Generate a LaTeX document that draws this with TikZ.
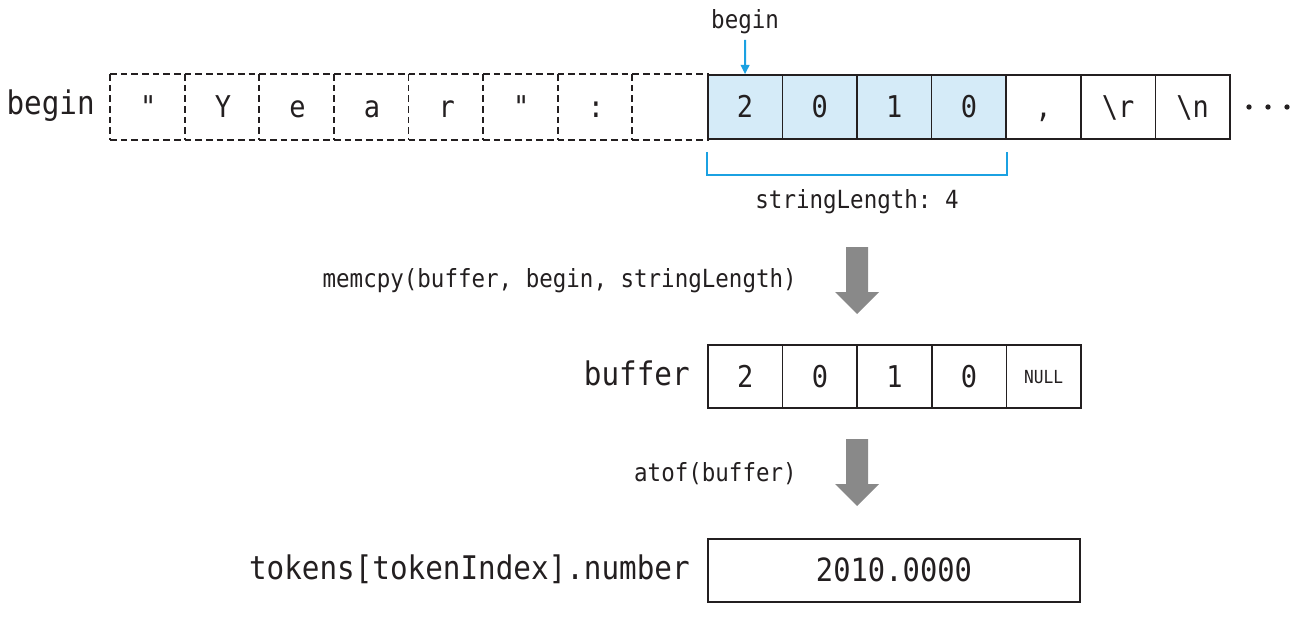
\documentclass[tikz,border=0pt]{standalone}
\usepackage{fontspec}
\setmonofont[FakeStretch=0.9]{DejaVu Sans Mono}
\usetikzlibrary{arrows.meta}
\definecolor{ink}{HTML}{231F20}
\definecolor{hl}{HTML}{D5EBF8}
\definecolor{cyanline}{HTML}{1BA1E2}
\definecolor{arrowgray}{HTML}{898989}
\newcommand\mybigfont{\fontsize{24.4pt}{26pt}\selectfont}
\newcommand\mycellfont{\fontsize{22.5pt}{24pt}\selectfont}
\newcommand\myresfont{\fontsize{24pt}{26pt}\selectfont}
\newcommand\mysmallfont{\fontsize{18.75pt}{20pt}\selectfont}
\newcommand\mytinyfont{\fontsize{13.5pt}{15pt}\selectfont}
\begin{document}
\begin{tikzpicture}[x=0.75pt,y=-0.75pt,font=\ttfamily,text=ink,
  cell/.style={draw=ink,line width=1.3pt,minimum width=55.95pt,minimum height=48pt,
    inner sep=0pt,text height=16pt,text depth=0pt,font=\ttfamily\mycellfont},
  dcell/.style={cell,draw=none},
  dashline/.style={draw=ink,line width=1.3pt,dash pattern=on 5pt off 3pt},
  hcell/.style={cell,fill=hl},
  bcell/.style={cell,minimum height=47.25pt},
  biglabel/.style={inner sep=0pt,font=\ttfamily\mybigfont},
  smalllabel/.style={inner sep=0pt,font=\ttfamily\mysmallfont},
  ptr/.style={draw=cyanline,line width=1.5pt,-{Triangle[length=7pt,width=6.5pt]}},
  brk/.style={draw=cyanline,line width=1.1pt},
  dot/.style={circle,fill=ink,inner sep=0pt,minimum size=4pt},
  garrow/.pic={\fill[arrowgray] (-11,0) -- (11,0) -- (11,45) -- (22,45) -- (0,67) -- (-22,45) -- (-11,45) -- cycle;}
]
\useasboundingbox (0,0) rectangle (1315,617);

% top row: dashed cells
\foreach \t [count=\i from 0] in {",Y,e,a,r,",:,{}}{
  \node[dcell] (c\i) at ({111+74.6*(\i+0.5)},107) {\t};
}
\foreach \i in {0,...,7}{
  \draw[dashline] (c\i.north west) -- (c\i.north east);
  \draw[dashline] (c\i.south west) -- (c\i.south east);
  \draw[dashline] (c\i.north west) -- (c\i.south west);
}
% highlighted cells
\foreach \t [count=\i from 8] in {2,0,1,0}{
  \node[hcell] (c\i) at ({111+74.6*(\i+0.5)},107) {\t};
}
% remaining solid cells
\node[cell] (c12) at ({111+74.6*12.5},107) {,};
\node[cell] (c13) at ({111+74.6*13.5},107) {\textbackslash r};
\node[cell] (c14) at ({111+74.6*14.5},107) {\textbackslash n};
\node[dot] (d1) at (1249,107) {};
\node[dot] (d2) at (1268,107) {};
\node[dot] (d3) at (1287,107) {};

\node[biglabel,anchor=base east] (lbegin) at (95,115) {begin};

% begin pointer
\node[smalllabel,anchor=base] (tbegin) at (745.1,29) {begin};
\draw[ptr] ([yshift=-4pt]tbegin.south) -- (c8.north);

% bracket
\draw[brk] ([yshift=-9pt]c8.south west) -- ++(0,23) -| ([yshift=-9pt]c11.south east);
\node[smalllabel,anchor=base] (slen) at (857,208) {stringLength: 4};

% memcpy arrow
\pic at (857,247) {garrow};
\node[smalllabel,anchor=base east] (memcpy) at (797,287) {memcpy(buffer, begin, stringLength)};

% buffer row
\foreach \t [count=\i from 0] in {2,0,1,0}{
  \node[bcell] (b\i) at ({708+74.6*(\i+0.5)},376.5) {\t};
}
\node[bcell,font=\ttfamily\mytinyfont,text height=10pt] (b4) at ({708+74.6*4.5},376.5) {NULL};
\node[biglabel,anchor=base east] (lbuffer) at (690,385) {buffer};

% atof arrow
\pic at (857,439) {garrow};
\node[smalllabel,anchor=base east] (atof) at (797,481) {atof(buffer)};

% result
\node[bcell,minimum width=279pt,font=\ttfamily\myresfont,text height=17pt] (res) at (894,570.5) {2010.0000};
\node[biglabel,anchor=base east] (ltok) at (690,579) {tokens[tokenIndex].number};
\end{tikzpicture}
\end{document}
